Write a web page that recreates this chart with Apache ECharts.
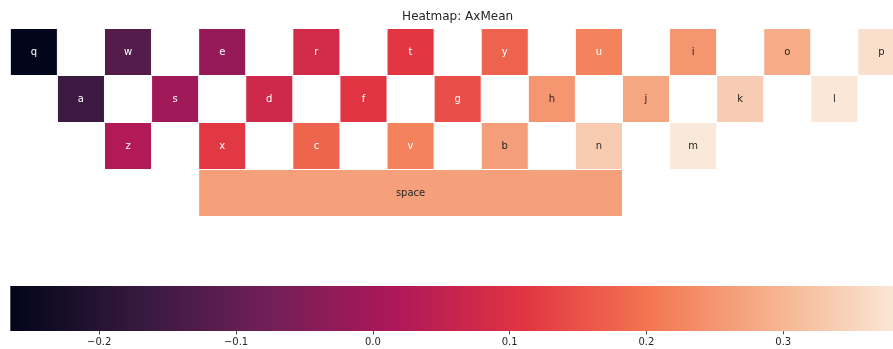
<!DOCTYPE html>
<html><head><meta charset="utf-8">
<script src="https://cdn.jsdelivr.net/npm/echarts@6/dist/echarts.min.js"></script>
<style>html,body{margin:0;padding:0;background:#fff}#c{width:893px;height:349px}</style>
</head><body><div id="c"></div>
<script>
const chartTitle = 'Heatmap: AxMean';
const topRowKeys = ['q','w','e','r','t','y','u','i','o','p'];
const topRowValues = [-0.265, -0.124, -0.020, 0.082, 0.114, 0.176, 0.220, 0.250, 0.285, 0.369];
const homeRowKeys = ['a','s','d','f','g','h','j','k','l'];
const homeRowValues = [-0.160, -0.004, 0.075, 0.110, 0.148, 0.250, 0.276, 0.337, 0.383];
const bottomRowKeys = ['z','x','c','v','b','n','m'];
const bottomRowValues = [0.024, 0.115, 0.178, 0.220, 0.264, 0.335, 0.385];
const spaceKey = 'space';
const spaceValue = 0.265;
const colorbarTicks = [-0.2, -0.1, 0.0, 0.1, 0.2, 0.3];
const valueMin = -0.265, valueMax = 0.389;
const rocket = ['#03051a','#35193e','#701f57','#ad1759','#e13342','#f37651','#f6b48f','#faebdd'];

const cells = [];
topRowKeys.forEach((k, i) => cells.push([2 * i, 0, 1, topRowValues[i], k]));
homeRowKeys.forEach((k, i) => cells.push([2 * i + 1, 1, 1, homeRowValues[i], k]));
bottomRowKeys.forEach((k, i) => cells.push([2 * i + 2, 2, 1, bottomRowValues[i], k]));
cells.push([4, 3, 9, spaceValue, spaceKey]);

function parseColor(c) {
  if (c[0] === '#') {
    return [parseInt(c.substr(1,2),16), parseInt(c.substr(3,2),16), parseInt(c.substr(5,2),16)];
  }
  const m = c.match(/[\d.]+/g).map(Number);
  return [m[0], m[1], m[2]];
}
function luminance(c) {
  const rgb = parseColor(c).map(v => {
    v = v / 255;
    return v <= 0.03928 ? v / 12.92 : Math.pow((v + 0.055) / 1.055, 2.4);
  });
  return 0.2126 * rgb[0] + 0.7152 * rgb[1] + 0.0722 * rgb[2];
}

const FONT = '"DejaVu Sans", sans-serif';
const chart = echarts.init(document.getElementById('c'));
const stops = rocket.map((c, i) => ({offset: i / (rocket.length - 1), color: c}));

// The figure is cropped on the right: the visible part of the plot spans 882.7 px
// of the full 894.7 px axes, so the visible axis ranges end short of the data extent.
const visibleFrac = 882.7 / 894.7;
const colMax = 19 * visibleFrac;
const cbarVisibleMax = valueMin + (valueMax - valueMin) * visibleFrac;

chart.setOption({
  animation: false,
  backgroundColor: '#fff',
  title: {
    text: chartTitle, left: 457.6, top: 11, padding: 0, textAlign: 'center',
    textStyle: {fontFamily: FONT, fontSize: 12, fontWeight: 'normal', color: '#262626'}
  },
  visualMap: {
    show: false, type: 'continuous', min: valueMin, max: valueMax,
    dimension: 3, seriesIndex: 0, inRange: {color: rocket}
  },
  grid: [
    {left: 10.3, top: 28.5, right: 0, height: 188},
    {left: 10.3, top: 286, right: 0, height: 45}
  ],
  xAxis: [
    {type: 'value', gridIndex: 0, min: 0, max: colMax, show: false},
    {type: 'value', gridIndex: 1, min: valueMin, max: cbarVisibleMax,
     axisLine: {show: false}, splitLine: {show: false},
     axisTick: {show: true, customValues: colorbarTicks, length: 3.5, lineStyle: {color: '#262626', width: 0.8}},
     axisLabel: {customValues: colorbarTicks, margin: 6, color: '#262626', fontSize: 10, fontFamily: FONT,
       formatter: v => (v < 0 ? '\u2212' : '') + Math.abs(v).toFixed(1)}}
  ],
  yAxis: [
    {type: 'value', gridIndex: 0, min: 0, max: 4, inverse: true, show: false},
    {type: 'value', gridIndex: 1, min: 0, max: 1, show: false}
  ],
  series: [
    {
      type: 'custom', xAxisIndex: 0, yAxisIndex: 0, clip: false,
      data: cells.map(c => [c[0], c[1], c[2], c[3]]),
      renderItem: (params, api) => {
        const c = api.value(0), r = api.value(1), span = api.value(2);
        const p0 = api.coord([c, r]);
        const p1 = api.coord([c + span, r + 1]);
        const color = api.visual('color');
        const txtColor = luminance(color) > 0.408 ? '#262626' : '#ffffff';
        return {
          type: 'group',
          children: [
            {type: 'rect', shape: {x: p0[0], y: p0[1], width: p1[0] - p0[0], height: p1[1] - p0[1]},
             style: {fill: color, stroke: '#ffffff', lineWidth: 1}},
            {type: 'text', style: {text: cells[params.dataIndex][4], x: (p0[0] + p1[0]) / 2, y: (p0[1] + p1[1]) / 2,
             align: 'center', verticalAlign: 'middle', fill: txtColor, font: '10px ' + FONT}}
          ]
        };
      }
    },
    {
      type: 'custom', xAxisIndex: 1, yAxisIndex: 1, clip: false,
      data: [[valueMin, valueMax]],
      renderItem: (params, api) => {
        const p0 = api.coord([api.value(0), 1]);
        const p1 = api.coord([api.value(1), 0]);
        return {
          type: 'rect', shape: {x: p0[0], y: p0[1], width: p1[0] - p0[0], height: p1[1] - p0[1]},
          style: {fill: new echarts.graphic.LinearGradient(0, 0, 1, 0, stops)}
        };
      }
    }
  ]
});
</script>
</body></html>
